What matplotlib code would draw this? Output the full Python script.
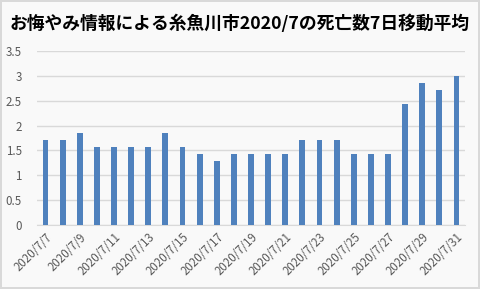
import matplotlib
matplotlib.use("Agg")
import matplotlib.pyplot as plt

plt.rcParams['font.family'] = ['Noto Sans CJK JP', 'DejaVu Sans']

# ===== data =====
days = list(range(7, 32))
dates = [f"2020/7/{d}" for d in days]
avg_deaths = [1.714, 1.714, 1.857, 1.571, 1.571, 1.571, 1.571, 1.857, 1.571,
              1.429, 1.286, 1.429, 1.429, 1.429, 1.429, 1.714, 1.714, 1.714,
              1.429, 1.429, 1.429, 2.429, 2.857, 2.714, 3.0]
yticks = [0, 0.5, 1, 1.5, 2, 2.5, 3, 3.5]
ytick_labels = ["0", "0.5", "1", "1.5", "2", "2.5", "3", "3.5"]

BG = "#F9F9F9"
BAR = "#4F81BD"
GRID = "#D9D9D9"
TXT = "#595959"

fig = plt.figure(figsize=(4.8, 2.89), dpi=100, facecolor=BG)
fig.patch.set_edgecolor("#D9D9D9")
fig.patch.set_linewidth(1.5)
ax = fig.add_axes([37 / 480, 1 - 225 / 289, (465 - 37) / 480, (225 - 51) / 289])
ax.set_facecolor(BG)

x = list(range(len(dates)))
ax.bar(x, avg_deaths, width=0.34, color=BAR, zorder=3)

ax.set_xlim(-0.5, len(dates) - 0.5)
ax.set_ylim(0, 3.5)
ax.set_yticks(yticks)
ax.set_yticklabels(ytick_labels)
ax.yaxis.grid(True, color=GRID, linewidth=1.0, zorder=0)
ax.set_xticks(x[::2])
ax.set_xticklabels(dates[::2], rotation=45, ha="right", rotation_mode="anchor")

for s in ["top", "right", "left"]:
    ax.spines[s].set_visible(False)
ax.spines["bottom"].set_color(GRID)
ax.tick_params(axis="both", length=0, colors=TXT, labelsize=8.3)
ax.tick_params(axis="y", pad=11)
ax.tick_params(axis="x", pad=4)

fig.text(0.5, 1 - 24 / 289, "お悔やみ情報による糸魚川市2020/7の死亡数7日移動平均",
         ha="center", va="center", fontsize=12.8, fontweight="bold", color="black")

fig.savefig("out.png", dpi=100, facecolor=BG, edgecolor=fig.patch.get_edgecolor())
